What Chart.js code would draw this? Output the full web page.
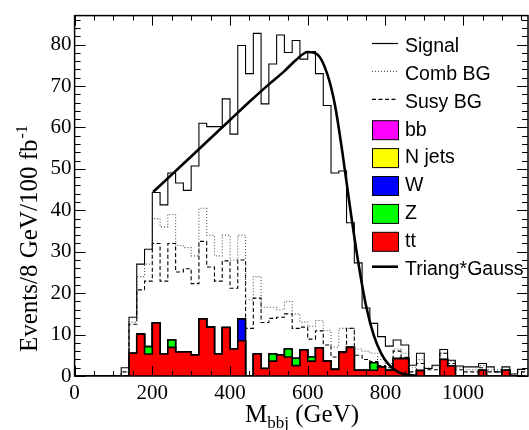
<!DOCTYPE html>
<html>
<head>
<meta charset="utf-8">
<script src="https://cdn.jsdelivr.net/npm/chart.js@4.4.1/dist/chart.umd.min.js"></script>
<style>
  html, body { margin: 0; padding: 0; background: #fff; }
</style>
</head>
<body>
<canvas id="chart" width="529" height="430"></canvas>
<script>
'use strict';

// ── Data: 20 GeV bins (lower edges) ────────────────────────────
const BIN_WIDTH = 20;
const BIN_LOW = [
  0, 20, 40, 60, 80, 100, 120, 140, 160, 180,
  200, 220, 240, 260, 280, 300, 320, 340, 360, 380,
  400, 420, 440, 460, 480, 500, 520, 540, 560, 580,
  600, 620, 640, 660, 680, 700, 720, 740, 760, 780,
  800, 820, 840, 860, 880, 900, 920, 940, 960, 980,
  1000, 1020, 1040, 1060, 1080, 1100, 1120, 1140,
];

const SIGNAL = [
  0, 0, 0, 0, 0, 0, 2, 14.2, 27, 30.6,
  44.3, 41.3, 49.0, 46.6, 44.8, 50.7, 61.0, 60.2, 60.2, 66.9,
  58.4, 79.8, 73.0, 82.7, 65.7, 75.3, 82.3, 78.1, 81.0, 76.5,
  78.3, 73.0, 65.3, 49.0, 49.5, 37.0, 27.3, 16.4, 12.7, 9.5,
  7.2, 8.7, 7.5, 2.6, 5.5, 1.8, 2.6, 6.4, 3.8, 2.4,
  2.2, 2.2, 3.0, 2.2, 1.0, 2.2, 0.5, 1.6,
];

const COMB_BG = [
  0, 0, 0, 0, 0, 0, 1, 13, 24, 27,
  38, 36, 39, 31.5, 31, 29, 40.5, 34, 29, 34,
  28, 34, 18.4, 24, 16.6, 16.6, 16, 18, 15, 13,
  12, 13.4, 11, 7, 11.5, 11.5, 6.5, 6, 5.5, 4,
  3, 6.5, 5.5, 2, 4, 2, 2.5, 5.5, 3.5, 2,
  1.5, 1.5, 2.5, 1.5, 1.5, 1.5, 0.5, 1.5,
];

const SUSY_BG = [
  0, 0, 0, 0, 0, 0, 1, 12.5, 20.8, 22.9,
  32, 22.9, 32, 25.1, 25.9, 22.3, 32.5, 26.3, 22.9, 27.8,
  21.2, 28, 11.5, 18.8, 12.9, 13.9, 14.2, 15, 11.5, 11.8,
  8.9, 10.9, 7.5, 4.6, 5.6, 11.5, 5, 4, 3.5, 2.5,
  2, 6, 4.5, 1, 3, 1.5, 1.5, 5.5, 3, 1.5,
  1, 1, 2, 1, 1, 1.5, 0, 1,
];

const TT = [
  0, 0, 0, 0, 0, 0, 0, 5.5, 10.1, 5.3,
  12.8, 5.3, 6.9, 5.8, 5.8, 5.1, 13.8, 11.8, 5.3, 11.7,
  6.5, 8.5, 0, 5.3, 1.8, 3.6, 5.1, 4.6, 2.5, 6.3,
  3.6, 6.8, 3.6, 1.6, 5.8, 6.9, 1.4, 1.4, 1.4, 2.2,
  1.4, 4.2, 4.2, 0, 1.3, 0, 0, 4.0, 2.4, 0,
  0, 0, 1.4, 0, 0, 1.4, 0, 0,
];

const Z_BOSON = [
  0, 0, 0, 0, 0, 0, 0, 0, 0, 1.8,
  0, 0, 1.8, 0, 0, 0, 0, 0, 0, 0,
  0, 0, 0, 0, 0, 1.7, 0, 1.9, 1.8, 0,
  1.0, 0, 0, 0, 0, 0, 0, 0, 1.8, 0,
  0, 0, 0, 0, 0, 0, 0, 0, 0, 0,
  0, 0, 0, 0, 0, 0, 0, 0,
];

const W_BOSON = [
  0, 0, 0, 0, 0, 0, 0, 0, 0, 0,
  0, 0, 0, 0, 0, 0, 0, 0, 0, 0,
  0, 5.3, 0, 0, 0, 0, 0, 0, 0, 0,
  0, 0, 0, 0, 0, 0, 0, 0, 0, 0,
  0, 0, 0, 0, 0, 0, 0, 0, 0, 0,
  0, 0, 0, 0, 0, 0, 0, 0,
];

// Triang*Gauss fit curve
const FIT_X = [202, 250, 300, 350, 400, 450, 500, 540, 570, 600, 625, 650, 670, 690, 710, 730, 750, 770, 790, 810, 830, 850, 880];
const FIT_Y = [44.4, 48.6, 53.0, 57.4, 61.8, 66.2, 70.4, 73.6, 76.3, 78.2, 77.6, 73.0, 65.5, 53.5, 40.0, 27.5, 17.0, 9.8, 5.3, 2.6, 1.1, 0.4, 0.05];

const X_TICKS = [0, 200, 400, 600, 800, 1000];
const Y_TICKS = [0, 10, 20, 30, 40, 50, 60, 70, 80];
const X_MAX = 1167;
const Y_MAX = 87;

// ── Helpers ────────────────────────────────────────────────────
function stepPoints(values) {
  const pts = BIN_LOW.map((x, i) => ({ x, y: values[i] }));
  const last = BIN_LOW.length - 1;
  pts.push({ x: BIN_LOW[last] + BIN_WIDTH, y: values[last] });
  return pts;
}

function addArrays(a, b) {
  return a.map((v, i) => v + b[i]);
}

const TT_Z   = addArrays(TT, Z_BOSON);
const TT_Z_W = addArrays(TT_Z, W_BOSON);

function histDataset(label, values, extra = {}) {
  return {
    label,
    data:        stepPoints(values),
    stepped:     true,
    borderColor: '#000',
    borderWidth: 1.1,
    fill:        false,
    pointRadius: 0,
    ...extra,
  };
}

const SERIF = "'Liberation Serif', 'Times New Roman', serif";
const SANS  = "'Liberation Sans', Arial, sans-serif";

// ── Plugins: ROOT-style frame, axis titles, legend ─────────────
const frameTicks = {
  id: 'frameTicks',
  afterDatasetsDraw(chart) {
    const { ctx, chartArea: a, scales: { x, y } } = chart;
    ctx.save();
    ctx.strokeStyle = '#000';
    ctx.lineWidth = 1;
    ctx.beginPath();
    for (let v = 0; v <= x.max; v += 50) {
      const px = Math.round(x.getPixelForValue(v)) + 0.5;
      const len = v % 200 === 0 ? 10 : 5;
      ctx.moveTo(px, a.bottom); ctx.lineTo(px, a.bottom - len);
      ctx.moveTo(px, a.top);    ctx.lineTo(px, a.top + len);
    }
    for (let v = 0; v <= y.max; v += 2) {
      const py = Math.round(y.getPixelForValue(v)) + 0.5;
      const len = v % 10 === 0 ? 11 : 6;
      ctx.moveTo(a.left, py);  ctx.lineTo(a.left + len, py);
      ctx.moveTo(a.right, py); ctx.lineTo(a.right - len, py);
    }
    ctx.stroke();
    ctx.lineWidth = 1.5;
    ctx.strokeRect(a.left, a.top, a.right - a.left, a.bottom - a.top);
    ctx.restore();
  },
};

const axisTitles = {
  id: 'axisTitles',
  afterDraw(chart) {
    const { ctx } = chart;
    ctx.save();
    ctx.fillStyle = '#000';
    ctx.textBaseline = 'alphabetic';

    // x title: M_bbj (GeV)
    let x0 = 245;
    const yb = 422;
    ctx.font = `25px ${SERIF}`;
    ctx.fillText('M', x0, yb);
    x0 += ctx.measureText('M').width;
    ctx.font = `17px ${SERIF}`;
    ctx.fillText('bbj', x0, yb + 6);
    x0 += ctx.measureText('bbj').width;
    ctx.font = `25px ${SERIF}`;
    ctx.fillText(' (GeV)', x0, yb);

    // y title: Events/8 GeV/100 fb^-1
    ctx.translate(37, 352);
    ctx.rotate(-Math.PI / 2);
    ctx.font = `25px ${SERIF}`;
    const main = 'Events/8 GeV/100 fb';
    ctx.fillText(main, 0, 0);
    const w = ctx.measureText(main).width;
    ctx.font = `16px ${SERIF}`;
    ctx.fillText('-1', w + 1, -10);
    ctx.restore();
  },
};

const LEGEND = [
  { label: 'Signal',       kind: 'line', dash: [] },
  { label: 'Comb BG',      kind: 'line', dash: [1, 2], color: '#555' },
  { label: 'Susy BG',      kind: 'line', dash: [4, 2.5] },
  { label: 'bb',           kind: 'box',  color: '#ff00ff' },
  { label: 'N jets',       kind: 'box',  color: '#ffff00' },
  { label: 'W',            kind: 'box',  color: '#0000ff' },
  { label: 'Z',            kind: 'box',  color: '#00ff00' },
  { label: 'tt',           kind: 'box',  color: '#ff0000' },
  { label: 'Triang*Gauss', kind: 'line', dash: [], width: 2.6 },
];

const rootLegend = {
  id: 'rootLegend',
  afterDraw(chart) {
    const { ctx } = chart;
    ctx.save();
    ctx.font = `19.5px ${SANS}`;
    ctx.textBaseline = 'middle';
    LEGEND.forEach((e, i) => {
      const yc = 46.5 + 27.9 * i;
      if (e.kind === 'line') {
        ctx.strokeStyle = e.color || '#000';
        ctx.lineWidth = e.width || 1.2;
        ctx.setLineDash(e.dash);
        ctx.beginPath();
        ctx.moveTo(372, yc - 3);
        ctx.lineTo(398, yc - 3);
        ctx.stroke();
        ctx.setLineDash([]);
      } else {
        ctx.fillStyle = e.color;
        ctx.fillRect(372, yc - 9.5, 26, 19);
        ctx.strokeStyle = '#000';
        ctx.lineWidth = 1;
        ctx.strokeRect(372.5, yc - 9.5, 26, 19);
      }
      ctx.fillStyle = '#000';
      ctx.fillText(e.label, 405, yc);
    });
    ctx.restore();
  },
};

// ── Chart ──────────────────────────────────────────────────────
new Chart(document.getElementById('chart').getContext('2d'), {
  type: 'line',
  data: {
    datasets: [
      {
        label: 'Triang*Gauss',
        data: FIT_X.map((x, i) => ({ x, y: FIT_Y[i] })),
        borderColor: '#000',
        borderWidth: 2.6,
        cubicInterpolationMode: 'monotone',
        fill: false,
        pointRadius: 0,
        order: 0,
      },
      histDataset('Signal', SIGNAL, { order: 1 }),
      histDataset('Comb BG', COMB_BG, { borderColor: '#555', borderDash: [1, 2], order: 2 }),
      histDataset('Susy BG', SUSY_BG, { borderDash: [4, 2.5], order: 3 }),
      histDataset('tt', TT, { fill: 'origin', backgroundColor: '#ff0000', borderWidth: 1.6, order: 4 }),
      histDataset('Z', TT_Z, { fill: 'origin', backgroundColor: '#00ff00', borderWidth: 1.6, order: 5 }),
      histDataset('W', TT_Z_W, { fill: 'origin', backgroundColor: '#0000ff', borderWidth: 1.6, order: 6 }),
    ],
  },
  options: {
    responsive: false,
    animation:  false,
    events:     [],
    layout: { padding: { top: 9, right: 1, left: 0, bottom: 0 } },
    plugins: {
      legend:  { display: false },
      tooltip: { enabled: false },
    },
    scales: {
      x: {
        type: 'linear',
        min: 0,
        max: X_MAX,
        border: { display: false },
        grid:   { display: false, drawTicks: false },
        ticks: {
          maxRotation: 0,
          autoSkip: false,
          padding: 5,
          color: '#000',
          font: { family: SERIF, size: 21 },
          callback: v => String(v),
        },
        afterBuildTicks: s => { s.ticks = X_TICKS.map(value => ({ value })); },
        afterFit: s => { s.height = 54; },
      },
      y: {
        min: 0,
        max: Y_MAX,
        border: { display: false },
        grid:   { display: false, drawTicks: false },
        ticks: {
          autoSkip: false,
          padding: 3,
          color: '#000',
          font: { family: SERIF, size: 21 },
          callback: v => String(v),
        },
        afterBuildTicks: s => { s.ticks = Y_TICKS.map(value => ({ value })); },
        afterFit: s => { s.width = 74.6; },
      },
    },
  },
  plugins: [frameTicks, axisTitles, rootLegend],
});
</script>
</body>
</html>
